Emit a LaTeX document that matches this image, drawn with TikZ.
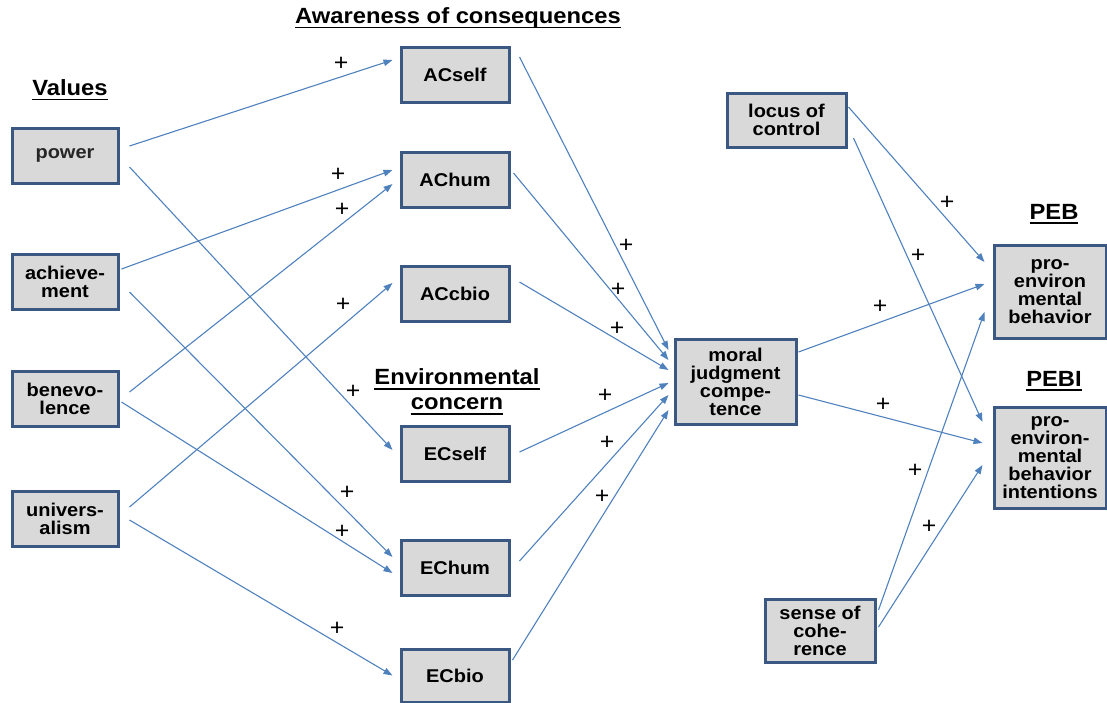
\documentclass[tikz,border=0pt]{standalone}
\usepackage{fontspec}
\setmainfont{Liberation Sans}[FakeStretch=1.08]
\usetikzlibrary{arrows.meta,positioning}
\definecolor{boxfill}{RGB}{217,217,217}
\definecolor{boxline}{RGB}{58,88,130}
\definecolor{arrblue}{RGB}{79,129,189}
\newcommand{\uhead}[1]{{\setbox0=\hbox{#1}\leavevmode\rlap{\rule[-5pt]{\wd0}{1.6pt}}\box0}}
\tikzset{
  var/.style={rectangle, draw=boxline, line width=3pt, fill=boxfill, align=center,
              inner sep=2pt, font=\fontsize{18.5}{18}\selectfont\bfseries,
              minimum width=106pt, minimum height=55pt},
  mid/.style={var, minimum width=108pt, minimum height=55pt},
  hdr/.style={font=\fontsize{22}{25}\selectfont\bfseries, align=center, inner sep=0pt},
  ar/.style={-{Triangle[length=9pt,width=6.5pt]}, line width=1.1pt, draw=arrblue},
  plus/.style={font=\fontsize{23}{23}\selectfont, inner sep=0pt},
}

\begin{document}
\begin{tikzpicture}[x=1pt,y=-1pt]
\useasboundingbox (0,0) rectangle (1107,702);

% ============================ headings ==============================
\node[hdr] (hval) at (70,90) {\uhead{Values}};
\node[hdr] (hawc) at (458,18) {\uhead{Awareness of consequences}};
\node[hdr] (henv) at (457,392) {\uhead{Environmental}\\\uhead{concern}};
\node[hdr] (hpeb) at (1054,214) {\uhead{PEB}};
\node[hdr] (hpebi) at (1054,381) {\uhead{PEBI}};

% ============================ values ==============================
\node[var, text=black!85] (power) at (65,155.5) {power};
\node[var] (achieve) at (65,281.5) {achieve-\\ment};
\node[var] (benev)   at (65,398.5) {benevo-\\lence};
\node[var] (univ)    at (65,519)   {univers-\\alism};

% ============================ AC / EC ==============================
\node[mid] (acself) at (455,74.5)  {ACself};
\node[mid] (achum)  at (455,179.5) {AChum};
\node[mid] (accbio) at (455,294)   {ACcbio};
\node[mid] (ecself) at (455,453.5) {ECself};
\node[mid] (echum)  at (455,568)   {EChum};
\node[mid, minimum height=53pt] (ecbio) at (455,675.5) {ECbio};

% ============================ right side ==============================
\node[var, minimum width=121pt, minimum height=85pt] (mjc) at (735.5,381.5)
  {moral\\judgment\\compe-\\tence};
\node[var, minimum width=119pt, minimum height=54pt] (locus) at (786.5,120)
  {locus of\\control};
\node[var, minimum width=110pt, minimum height=63pt] (sense) at (820,630.5)
  {sense of\\cohe-\\rence};
\node[var, minimum width=112pt, minimum height=93pt] (peb) at (1050,291.5)
  {pro-\\environ\\mental\\behavior};
\node[var, minimum width=112pt, minimum height=101pt] (pebi) at (1050,457.5)
  {pro-\\environ-\\mental\\behavior\\intentions};

% ============================ paths ==============================
\foreach \a/\sx/\sy/\b/\ex/\ey in {%
  power/10/-9.5/acself/-7/-14.5,
  power/10/11.5/ecself/-7/-3.5,
  achieve/2/-12.5/achum/-7/-9.5,
  achieve/10/10.5/echum/-7/-11,
  benev/10/-6.5/achum/-7/4.5,
  benev/2/3.5/echum/-7/5,
  univ/10/-12/accbio/-7/-11,
  univ/10/1/ecbio/-7/0,
  acself/9/-17.5/mjc/-5/-31.5,
  achum/3/-6.5/mjc/-5/-21.5,
  accbio/9/-12/mjc/-5/-11.5,
  ecself/9/-1.5/mjc/-5/1.5,
  echum/9/-7/mjc/-5/13.5,
  ecbio/2/-15.5/mjc/-5/28.5,
  mjc/1/-29.5/peb/-8/-7.5,
  mjc/1/13.5/pebi/-10/-14.5,
  locus/1/-13/peb/-8/-29.5,
  locus/6/18/pebi/-10/-35.5,
  sense/2/-20.5/peb/-8/20.5,
  sense/2/-3.5/pebi/-10/7.5}
{
  \draw[ar] ([shift={(\sx,\sy)}]\a.east) -- ([shift={(\ex,\ey)}]\b.west);
}

% ============================ signs ==============================
\foreach \i/\px/\py in {1/341/64, 2/353/392, 3/338/175, 4/347/493, 5/342/210,
  6/342/532, 7/343/305, 8/337/629, 9/626/246, 10/618/290, 11/617/329,
  12/605/396, 13/607/443, 14/602/497, 15/880/307, 16/883/405, 17/947/203,
  18/918/256, 19/915/471, 20/929/527}
{
  \node[plus] (p\i) at (\px,\py) {+};
}

\end{tikzpicture}
\end{document}
